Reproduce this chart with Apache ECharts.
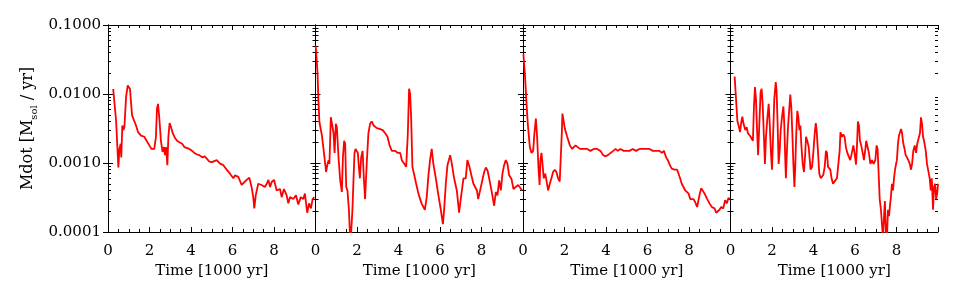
<!DOCTYPE html>
<html>
<head>
<meta charset="utf-8">
<script src="https://cdn.jsdelivr.net/npm/echarts@6/dist/echarts.min.js"></script>
<style>
html,body{margin:0;padding:0;background:#fff;}
#c{width:969px;height:301px;}
</style>
</head>
<body>
<div id="c"></div>
<script>
// Time [1000 yr] and Mdot [Msol/yr] for each panel
const t1 = [0.25,0.39,0.50,0.55,0.61,0.64,0.69,0.74,0.79,0.87,0.95,1.00,1.06,1.16,1.25,1.35,1.45,1.59,1.75,1.86,1.99,2.10,2.23,2.31,2.36,2.41,2.47,2.55,2.63,2.70,2.75,2.80,2.86,2.91,2.97,3.04,3.12,3.23,3.33,3.44,3.57,3.68,3.76,3.92,4.05,4.16,4.27,4.40,4.56,4.66,4.77,4.88,5.01,5.08,5.24,5.40,5.56,5.72,5.88,6.04,6.12,6.28,6.44,6.52,6.68,6.81,6.92,7.00,7.05,7.12,7.24,7.40,7.56,7.65,7.73,7.81,7.89,8.00,8.13,8.29,8.37,8.48,8.61,8.69,8.77,8.93,9.06,9.17,9.29,9.41,9.49,9.60,9.69,9.78,9.86,9.94];
const m1 = [0.0118,0.0041,0.00086,0.0016,0.0019,0.0012,0.0035,0.0030,0.0033,0.0090,0.0133,0.0140,0.0118,0.0049,0.0047,0.0035,0.0028,0.0025,0.0024,0.0021,0.0018,0.0016,0.0016,0.0024,0.0061,0.0072,0.0046,0.0021,0.00145,0.0017,0.0013,0.0017,0.00093,0.0024,0.0038,0.0033,0.0027,0.0023,0.0021,0.0020,0.0019,0.0017,0.0018,0.0016,0.0015,0.0014,0.00134,0.0013,0.0012,0.00125,0.00115,0.00105,0.00103,0.00105,0.0011,0.00098,0.00093,0.0008,0.0007,0.0006,0.00066,0.00063,0.00048,0.00045,0.00057,0.00061,0.00045,0.00032,0.00022,0.00034,0.0005,0.00048,0.00045,0.0005,0.00057,0.00045,0.00053,0.00057,0.0004,0.00042,0.00032,0.00042,0.00034,0.00026,0.00032,0.0003,0.00034,0.00025,0.00032,0.0003,0.00036,0.00019,0.00026,0.00022,0.0003,0.00032];

const t2 = [0.01,0.10,0.14,0.19,0.31,0.42,0.51,0.58,0.63,0.67,0.74,0.79,0.87,0.92,0.98,1.03,1.11,1.19,1.27,1.32,1.38,1.43,1.48,1.54,1.61,1.67,1.72,1.78,1.83,1.88,1.93,1.99,2.04,2.09,2.14,2.20,2.27,2.33,2.39,2.47,2.55,2.63,2.71,2.80,2.96,3.12,3.24,3.36,3.47,3.57,3.68,3.84,3.97,4.08,4.16,4.27,4.37,4.45,4.51,4.56,4.61,4.67,4.76,4.85,4.96,5.04,5.11,5.20,5.27,5.36,5.45,5.52,5.60,5.68,5.80,5.91,6.04,6.14,6.20,6.28,6.36,6.44,6.49,6.57,6.68,6.81,6.92,7.00,7.13,7.24,7.32,7.40,7.49,7.61,7.78,7.84,7.97,8.06,8.13,8.21,8.29,8.37,8.48,8.61,8.69,8.77,8.85,8.93,9.01,9.09,9.17,9.25,9.33,9.45,9.54,9.65,9.77,9.86,9.96];
const m2 = [0.050,0.0196,0.0081,0.0039,0.0025,0.0013,0.00074,0.00097,0.0011,0.00097,0.0046,0.0044,0.0027,0.0014,0.0037,0.0033,0.0012,0.00056,0.00038,0.0012,0.0021,0.0019,0.00045,0.0004,0.00021,0.00008,0.0001,0.00021,0.00056,0.0014,0.0016,0.0015,0.0014,0.00088,0.0006,0.0012,0.0015,0.0006,0.0003,0.0010,0.0027,0.0037,0.0040,0.0035,0.0032,0.0031,0.0030,0.0027,0.0024,0.0018,0.0015,0.0015,0.0014,0.0014,0.0011,0.00098,0.00088,0.0027,0.0119,0.0100,0.0046,0.00088,0.00067,0.0005,0.00036,0.00036,0.00026,0.00025,0.00021,0.00032,0.0007,0.0011,0.0016,0.00097,0.0006,0.00036,0.00021,0.00013,0.00021,0.0005,0.00093,0.00088,0.0013,0.00097,0.0006,0.0004,0.00019,0.0003,0.0006,0.0006,0.0011,0.00093,0.00088,0.0005,0.0004,0.0003,0.00045,0.0006,0.00074,0.00086,0.00078,0.0006,0.0004,0.00024,0.00038,0.00034,0.00056,0.0004,0.0007,0.00093,0.0011,0.00097,0.00067,0.00058,0.00042,0.00045,0.00048,0.00045,0.0004];

const t3 = [0.02,0.10,0.17,0.23,0.33,0.41,0.49,0.55,0.62,0.68,0.75,0.80,0.84,0.89,0.94,1.00,1.07,1.13,1.21,1.29,1.37,1.45,1.53,1.61,1.69,1.77,1.84,1.87,1.90,1.95,2.02,2.13,2.26,2.37,2.45,2.53,2.58,2.64,2.74,2.90,3.09,3.25,3.41,3.57,3.73,3.86,3.98,4.09,4.22,4.35,4.46,4.57,4.70,4.86,5.00,5.13,5.29,5.45,5.61,5.78,5.94,6.10,6.26,6.42,6.58,6.69,6.79,6.90,6.98,7.08,7.17,7.30,7.43,7.51,7.57,7.65,7.74,7.82,7.91,7.98,8.06,8.14,8.22,8.30,8.39,8.46,8.52,8.59,8.67,8.75,8.88,8.99,9.10,9.23,9.31,9.39,9.47,9.55,9.65,9.74,9.82,9.90,9.97];
const m3 = [0.038,0.0175,0.0072,0.0037,0.0017,0.0014,0.0015,0.0027,0.0044,0.0024,0.0008,0.00048,0.0011,0.0014,0.00097,0.0006,0.0007,0.00056,0.0004,0.0005,0.0006,0.00074,0.0008,0.00074,0.0006,0.00054,0.00056,0.0027,0.0052,0.0049,0.0031,0.0024,0.0018,0.0016,0.0015,0.0018,0.0019,0.0017,0.0016,0.0016,0.0016,0.0015,0.0016,0.0016,0.0015,0.0013,0.00125,0.0013,0.0014,0.0015,0.0016,0.0015,0.0016,0.0015,0.0015,0.0015,0.0016,0.0015,0.0016,0.0016,0.0016,0.0016,0.0015,0.0015,0.0015,0.0014,0.0015,0.0012,0.0011,0.00093,0.00083,0.0008,0.0008,0.00083,0.0006,0.0005,0.00053,0.0004,0.00042,0.00036,0.0003,0.00029,0.0003,0.00027,0.00023,0.00024,0.00036,0.00043,0.00041,0.00036,0.0003,0.00026,0.00023,0.00022,0.00019,0.00019,0.00021,0.00023,0.00022,0.00029,0.00026,0.00031,0.0003];

const t4 = [0.20,0.27,0.33,0.41,0.46,0.52,0.57,0.63,0.71,0.78,0.84,0.91,0.97,1.04,1.08,1.13,1.18,1.23,1.28,1.33,1.39,1.45,1.50,1.55,1.61,1.66,1.71,1.78,1.84,1.89,1.95,2.00,2.05,2.11,2.18,2.22,2.27,2.32,2.37,2.42,2.48,2.55,2.59,2.64,2.67,2.72,2.77,2.84,2.88,2.93,2.98,3.03,3.08,3.12,3.17,3.22,3.27,3.32,3.37,3.41,3.48,3.54,3.59,3.64,3.70,3.77,3.81,3.86,3.93,3.99,4.06,4.11,4.15,4.22,4.28,4.35,4.41,4.47,4.54,4.60,4.65,4.70,4.75,4.81,4.87,4.94,5.05,5.13,5.21,5.26,5.30,5.37,5.43,5.50,5.56,5.63,5.69,5.77,5.85,5.92,5.98,6.05,6.10,6.14,6.19,6.24,6.30,6.37,6.43,6.50,6.54,6.61,6.67,6.74,6.82,6.90,6.98,7.04,7.09,7.14,7.19,7.25,7.30,7.35,7.40,7.44,7.49,7.54,7.59,7.64,7.69,7.73,7.78,7.83,7.88,7.93,7.98,8.02,8.07,8.12,8.17,8.22,8.26,8.33,8.39,8.44,8.51,8.57,8.64,8.70,8.75,8.81,8.88,8.94,9.00,9.07,9.13,9.18,9.23,9.28,9.34,9.41,9.47,9.54,9.60,9.65,9.70,9.76,9.81,9.86,9.91,9.96,10.0];
const m4 = [0.0179,0.0081,0.0041,0.0033,0.0028,0.0039,0.0047,0.0037,0.0030,0.0033,0.0027,0.0028,0.0024,0.0025,0.0021,0.0065,0.0126,0.0081,0.0030,0.0013,0.0037,0.0106,0.0119,0.0072,0.0024,0.00097,0.0024,0.0046,0.0072,0.0037,0.0014,0.0008,0.0024,0.0085,0.0149,0.0112,0.0037,0.00097,0.0015,0.0030,0.0046,0.0066,0.0037,0.0011,0.0006,0.0015,0.0033,0.0065,0.0098,0.0065,0.0027,0.00097,0.00045,0.00088,0.0027,0.0057,0.0046,0.0030,0.0035,0.0019,0.00097,0.00074,0.0012,0.0024,0.0021,0.0017,0.0012,0.0008,0.00088,0.0014,0.0027,0.0038,0.0030,0.0014,0.0007,0.0006,0.0006,0.00067,0.00088,0.0015,0.0014,0.00088,0.00083,0.0008,0.0006,0.0005,0.00056,0.0006,0.00057,0.0015,0.0028,0.0024,0.0026,0.0024,0.0017,0.0014,0.0014,0.0011,0.0014,0.0018,0.0014,0.00095,0.0019,0.0040,0.0035,0.0021,0.0018,0.0014,0.0011,0.0016,0.0021,0.0020,0.0014,0.00097,0.0011,0.00097,0.0011,0.0018,0.0016,0.0007,0.0003,0.00021,0.00013,0.00008,0.00017,0.00028,0.0001,0.00008,0.00021,0.00017,0.00025,0.00032,0.0005,0.0004,0.0006,0.0008,0.00097,0.0011,0.0019,0.0025,0.0024,0.0031,0.0028,0.0019,0.0016,0.0013,0.0012,0.0011,0.00097,0.0008,0.00097,0.0015,0.0018,0.0014,0.0019,0.0023,0.0027,0.0046,0.0037,0.0024,0.0020,0.0015,0.00097,0.00093,0.0006,0.0004,0.0006,0.00021,0.00045,0.0005,0.0003,0.00036,0.0005];

const panelTimes = [t1, t2, t3, t4];
const panelMdot = [m1, m2, m3, m4];
const xTicks = [0, 2, 4, 6, 8];
const yTickLabels = ['0.0001', '0.0010', '0.0100', '0.1000'];

const FONT = 'DejaVu Serif';
const FS = 15;
const chart = echarts.init(document.getElementById('c'), null, {renderer: 'canvas'});

// minor tick positions in log10 space (2..9 x each decade)
const minorLog = [];
for (let d = -4; d < -1; d++) {
  for (let k = 2; k <= 9; k++) minorLog.push(d + Math.log10(k));
}

const grids = [], xAxes = [], yAxes = [], series = [];
const PW = 207.5;
for (let i = 0; i < 4; i++) {
  grids.push({left: 108 + i * PW, width: PW, top: 25, height: 207, containLabel: false});
  const xBase = {
    type: 'value', gridIndex: i, min: 0, max: 10, interval: 2,
    axisLine: {show: true, lineStyle: {color: '#000', width: 1}},
    axisTick: {show: true, inside: true, length: 5, lineStyle: {color: '#000'}},
    minorTick: {show: true, splitNumber: 4, length: 3, lineStyle: {color: '#000'}},
    splitLine: {show: false}
  };
  xAxes.push(Object.assign({}, xBase, {
    position: 'bottom',
    name: 'Time [1000 yr]', nameLocation: 'middle', nameGap: 30,
    nameTextStyle: {fontFamily: FONT, fontSize: FS, color: '#000'},
    axisLabel: {show: true, margin: 12, fontFamily: FONT, fontSize: FS, color: '#000',
      formatter: v => (xTicks.indexOf(v) >= 0 ? String(v) : '')}
  }));
  xAxes.push(Object.assign({}, xBase, {position: 'top', axisLabel: {show: false}}));

  const yBase = {
    type: 'log', logBase: 10, gridIndex: i, min: 0.0001, max: 0.1, interval: 1,
    axisLine: {show: true, lineStyle: {color: '#000', width: 1}},
    axisTick: {show: true, inside: true, length: 5, lineStyle: {color: '#000'}},
    splitLine: {show: false}
  };
  const left = Object.assign({}, yBase, {position: 'left',
    axisLabel: {show: i === 0, margin: 7, fontFamily: FONT, fontSize: FS, color: '#000',
      formatter: v => {
        const s = Number(v).toFixed(4);
        return yTickLabels.indexOf(s) >= 0 ? s : '';
      }}
  });
  if (i === 0) {
    left.name = '{a|Mdot [M}{b|sol}{a| / yr]}';
    left.nameLocation = 'middle';
    left.nameGap = 69;
    left.nameTextStyle = {
      rich: {
        a: {fontFamily: FONT, fontSize: 16, color: '#000', lineHeight: 22, verticalAlign: 'middle'},
        b: {fontFamily: FONT, fontSize: 10, color: '#000', lineHeight: 11, verticalAlign: 'bottom'}
      }
    };
  }
  yAxes.push(left);
  yAxes.push(Object.assign({}, yBase, {position: 'right', axisLabel: {show: false}}));
  // minor ticks of the log axis (left & right)
  ['left', 'right'].forEach(pos => {
    yAxes.push({
      type: 'value', gridIndex: i, min: -4, max: -1, position: pos,
      axisLine: {show: false}, axisLabel: {show: false}, splitLine: {show: false},
      axisTick: {show: true, inside: true, length: 3, customValues: minorLog, lineStyle: {color: '#000'}}
    });
  });

  series.push({
    type: 'line', xAxisIndex: 2 * i, yAxisIndex: 4 * i,
    data: panelTimes[i].map((t, j) => [t, panelMdot[i][j]]),
    showSymbol: false, symbol: 'none', clip: true, animation: false,
    lineStyle: {color: '#ff0000', width: 1.8}
  });
}

chart.setOption({
  backgroundColor: '#fff',
  animation: false,
  grid: grids,
  xAxis: xAxes,
  yAxis: yAxes,
  series: series
});
</script>
</body>
</html>
